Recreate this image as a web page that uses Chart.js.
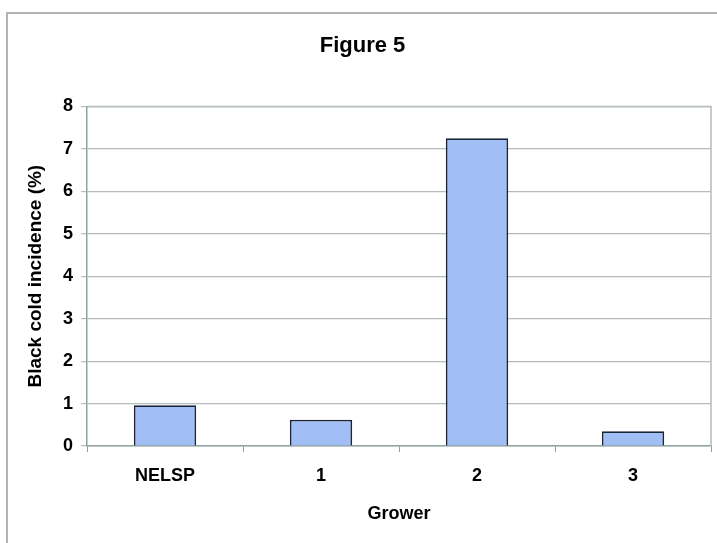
<!DOCTYPE html>
<html>
<head>
<meta charset="utf-8">
<script src="https://cdn.jsdelivr.net/npm/chart.js@4.4.0/dist/chart.umd.min.js"></script>
<style>
  html, body { margin: 0; padding: 0; background: #fff; }
  #wrap { width: 717px; height: 543px; position: relative; }
</style>
</head>
<body>
<div id="wrap"><canvas id="myChart" width="717" height="543"></canvas></div>
<script>
"use strict";
const growers = ["NELSP", "1", "2", "3"];
const incidence = [0.96, 0.62, 7.25, 0.35];
const yTicks = [0, 1, 2, 3, 4, 5, 6, 7, 8];

const gridColor = "#b4bcbc";
const axisColor = "#8fa3a3";
const fontFam = "Liberation Sans";

// outer frame of the chart area (only left and top edges show in the picture)
const framePlugin = {
    id: "frame",
    beforeDraw(chart) {
        let ctx = chart.ctx;
        ctx.save();
        ctx.fillStyle = "#fff";
        ctx.fillRect(0, 0, chart.width, chart.height);
        ctx.strokeStyle = "#b3b3b3";
        ctx.lineWidth = 2;
        ctx.beginPath();
        ctx.moveTo(7, chart.height);
        ctx.lineTo(7, 13);
        ctx.lineTo(chart.width, 13);
        ctx.stroke();
        ctx.restore();
    },
    afterDraw(chart) {
        // plot area border top and right
        let a = chart.chartArea, ctx = chart.ctx;
        ctx.save();
        ctx.strokeStyle = gridColor;
        ctx.lineWidth = 1.5;
        ctx.beginPath();
        ctx.moveTo(a.left, a.top);
        ctx.lineTo(a.right, a.top);
        ctx.lineTo(a.right, a.bottom);
        ctx.stroke();
        ctx.restore();
    }
};

new Chart(document.getElementById("myChart"), {
    type: "bar",
    data: {
        labels: growers,
        datasets: [{
            data: incidence,
            backgroundColor: "#a1bef5",
            borderColor: "#1c2538",
            borderWidth: 1.8,
            categoryPercentage: 1,
            barPercentage: 0.4
        }]
    },
    options: {
        responsive: false,
        animation: false,
        layout: { padding: { left: 14, right: 6, top: 0, bottom: 0 } },
        plugins: {
            legend: { display: false },
            tooltip: { enabled: false },
            title: {
                display: true,
                text: "Figure 5",
                color: "#000",
                font: { family: fontFam, size: 22, weight: "bold" },
                padding: { top: 33, bottom: 47 }
            }
        },
        scales: {
            x: {
                grid: {
                    offset: true,
                    drawOnChartArea: false,
                    color: axisColor,
                    tickLength: 6
                },
                border: { color: axisColor, width: 1.5 },
                ticks: {
                    color: "#000",
                    padding: 13,
                    font: { family: fontFam, size: 18, weight: "bold" }
                },
                title: {
                    display: true,
                    text: "Grower",
                    color: "#000",
                    font: { family: fontFam, size: 18, weight: "bold" },
                    padding: { top: 0, bottom: 18 }
                },
                afterFit(scale) { scale.height = 97; }
            },
            y: {
                min: 0,
                max: 8,
                afterBuildTicks(scale) { scale.ticks = yTicks.map(v => ({ value: v })); },
                grid: { color: gridColor, lineWidth: 1.2, tickLength: 6 },
                border: { color: axisColor, width: 1.5 },
                ticks: {
                    color: "#000",
                    padding: 8,
                    font: { family: fontFam, size: 18, weight: "bold" }
                },
                title: {
                    display: true,
                    text: "Black cold incidence (%)",
                    color: "#000",
                    font: { family: fontFam, size: 19, weight: "bold" },
                    padding: { top: 10, bottom: 0 }
                },
                afterFit(scale) { scale.width = 73; }
            }
        }
    },
    plugins: [framePlugin]
});
</script>
</body>
</html>
